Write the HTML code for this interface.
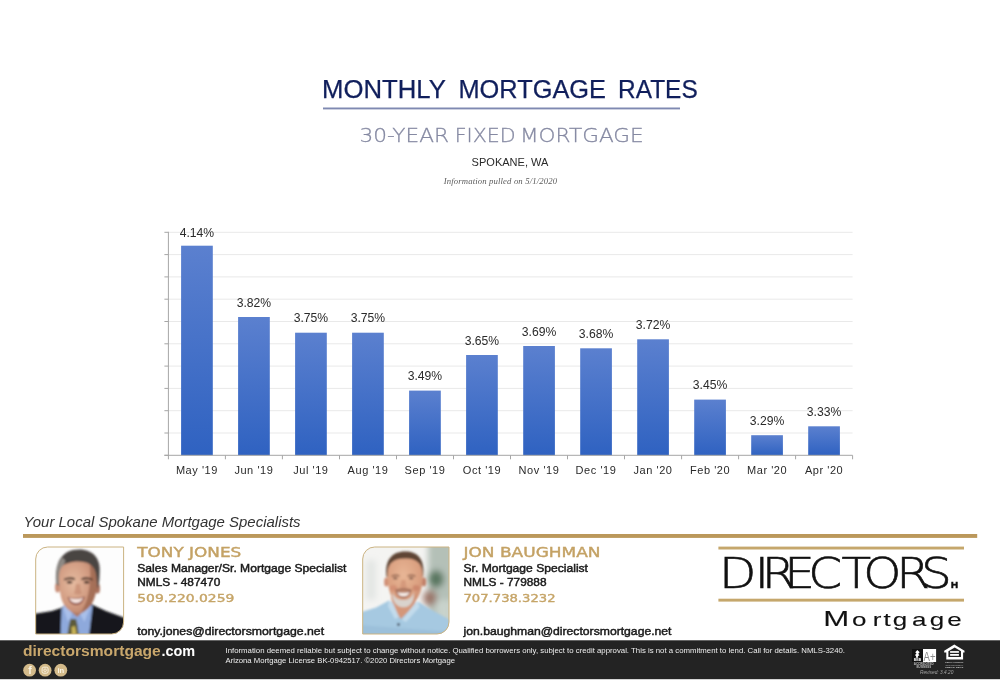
<!DOCTYPE html>
<html lang="en">
<head>
<meta charset="utf-8">
<title>Monthly Mortgage Rates</title>
<style>
html,body{margin:0;padding:0;background:#fff;}
body{width:1000px;height:688px;overflow:hidden;position:relative;font-family:"Liberation Sans",sans-serif;}
svg{position:absolute;left:0;top:0;display:block;}
text{font-family:"Liberation Sans",sans-serif;}
.title{font-size:25.8px;fill:#101f5c;stroke:#101f5c;stroke-width:0.25px;}
.sub{font-family:"DejaVu Sans Light","DejaVu Sans","Liberation Sans",sans-serif;font-weight:200;font-size:19.8px;fill:#8589a2;stroke:#8589a2;stroke-width:0.3px;}
.city{font-size:10.6px;fill:#2a2a2a;}
.info{font-family:"Liberation Serif",serif;font-style:italic;font-size:8.7px;fill:#5a5a5a;}
.vl{font-size:13px;fill:#2a2a2a;}
.xl{font-size:11px;fill:#2a2a2a;letter-spacing:0.55px;}
.spec{font-style:italic;font-size:14px;fill:#333;}
.nm{font-family:"DejaVu Sans","Liberation Sans",sans-serif;font-size:13.4px;fill:#c4a265;stroke:#c4a265;stroke-width:0.4px;}
.ln{font-size:11px;fill:#1a1a1a;stroke:#1a1a1a;stroke-width:0.45px;}
.ph{font-family:"DejaVu Sans","Liberation Sans",sans-serif;font-size:11.1px;fill:#c6a568;stroke:#c6a568;stroke-width:0.4px;}
.dis{font-size:7.2px;fill:#eee;}
.logo{font-family:"DejaVu Sans Light","DejaVu Sans","Liberation Sans",sans-serif;font-weight:200;font-size:42.2px;fill:#111;stroke:#111;stroke-width:0.6px;}
.lh{font-size:8.6px;font-weight:bold;fill:#111;stroke:#111;stroke-width:0.5px;}
.logom{font-size:18.8px;fill:#111;stroke:#111;stroke-width:0.12px;}
.site{font-weight:bold;font-size:14.3px;}
.ic{fill:#fbf4e4;}
.rev{font-style:italic;font-size:5px;fill:#a5a5a5;}
</style>
</head>
<body>
<svg width="1000" height="688" viewBox="0 0 1000 688">
<defs>
<linearGradient id="bg" x1="0" y1="0" x2="0" y2="1">
<stop offset="0" stop-color="#5b80cf"/>
<stop offset="1" stop-color="#2f62c1"/>
</linearGradient>
<clipPath id="c1"><path d="M47.7 547 H123.6 V622 A12 12 0 0 1 111.6 634 H35.7 V559 A12 12 0 0 1 47.7 547 Z"/></clipPath>
<clipPath id="c2"><path d="M374.7 547 H449 V622 A12 12 0 0 1 437 634 H362.7 V559 A12 12 0 0 1 374.7 547 Z"/></clipPath>
<filter id="bl" x="-10%" y="-10%" width="120%" height="120%"><feGaussianBlur stdDeviation="0.85"/></filter>
<filter id="bl2" x="-30%" y="-30%" width="160%" height="160%"><feGaussianBlur stdDeviation="3"/></filter>
<radialGradient id="sk1" cx="0.38" cy="0.42" r="0.7">
<stop offset="0" stop-color="#e6bba0"/>
<stop offset="0.6" stop-color="#d29c82"/>
<stop offset="1" stop-color="#b98068"/>
</radialGradient>
<radialGradient id="sk2" cx="0.45" cy="0.35" r="0.75">
<stop offset="0" stop-color="#e8b696"/>
<stop offset="0.6" stop-color="#dba080"/>
<stop offset="1" stop-color="#c4836a"/>
</radialGradient>
</defs>
<!-- header -->
<text id="t1" class="title" x="322" y="97.6" textLength="123.8" lengthAdjust="spacingAndGlyphs">MONTHLY</text>
<text id="t1b" class="title" x="458.4" y="97.6" textLength="147.6" lengthAdjust="spacingAndGlyphs">MORTGAGE</text>
<text id="t1c" class="title" x="618" y="97.6" textLength="79.7" lengthAdjust="spacingAndGlyphs">RATES</text>
<rect x="323" y="107.5" width="357" height="1.9" fill="#7f89b1"/>
<text id="t2" class="sub" x="359.5" y="142" textLength="89.5" lengthAdjust="spacingAndGlyphs">30-YEAR</text>
<text id="t2b" class="sub" x="454.7" y="142" textLength="61" lengthAdjust="spacingAndGlyphs">FIXED</text>
<text id="t2c" class="sub" x="520" y="142" textLength="123.7" lengthAdjust="spacingAndGlyphs">MORTGAGE</text>
<text id="t3" class="city" x="471.6" y="166.2" textLength="76.8" lengthAdjust="spacingAndGlyphs">SPOKANE, WA</text>
<text id="t4" class="info" x="443.7" y="183.7" textLength="113.3" lengthAdjust="spacing">Information pulled on 5/1/2020</text>
<!-- chart -->
<line x1="164.4" y1="232.3" x2="168.4" y2="232.3" stroke="#a6a6a6" stroke-width="1"/>
<line x1="168.4" y1="232.3" x2="852.6" y2="232.3" stroke="#e9e9e9" stroke-width="1"/>
<line x1="164.4" y1="254.6" x2="168.4" y2="254.6" stroke="#a6a6a6" stroke-width="1"/>
<line x1="168.4" y1="254.6" x2="852.6" y2="254.6" stroke="#e9e9e9" stroke-width="1"/>
<line x1="164.4" y1="276.9" x2="168.4" y2="276.9" stroke="#a6a6a6" stroke-width="1"/>
<line x1="168.4" y1="276.9" x2="852.6" y2="276.9" stroke="#e9e9e9" stroke-width="1"/>
<line x1="164.4" y1="299.2" x2="168.4" y2="299.2" stroke="#a6a6a6" stroke-width="1"/>
<line x1="168.4" y1="299.2" x2="852.6" y2="299.2" stroke="#e9e9e9" stroke-width="1"/>
<line x1="164.4" y1="321.5" x2="168.4" y2="321.5" stroke="#a6a6a6" stroke-width="1"/>
<line x1="168.4" y1="321.5" x2="852.6" y2="321.5" stroke="#e9e9e9" stroke-width="1"/>
<line x1="164.4" y1="343.8" x2="168.4" y2="343.8" stroke="#a6a6a6" stroke-width="1"/>
<line x1="168.4" y1="343.8" x2="852.6" y2="343.8" stroke="#e9e9e9" stroke-width="1"/>
<line x1="164.4" y1="366.1" x2="168.4" y2="366.1" stroke="#a6a6a6" stroke-width="1"/>
<line x1="168.4" y1="366.1" x2="852.6" y2="366.1" stroke="#e9e9e9" stroke-width="1"/>
<line x1="164.4" y1="388.4" x2="168.4" y2="388.4" stroke="#a6a6a6" stroke-width="1"/>
<line x1="168.4" y1="388.4" x2="852.6" y2="388.4" stroke="#e9e9e9" stroke-width="1"/>
<line x1="164.4" y1="410.7" x2="168.4" y2="410.7" stroke="#a6a6a6" stroke-width="1"/>
<line x1="168.4" y1="410.7" x2="852.6" y2="410.7" stroke="#e9e9e9" stroke-width="1"/>
<line x1="164.4" y1="433.0" x2="168.4" y2="433.0" stroke="#a6a6a6" stroke-width="1"/>
<line x1="168.4" y1="433.0" x2="852.6" y2="433.0" stroke="#e9e9e9" stroke-width="1"/>
<line x1="164.4" y1="455.3" x2="168.4" y2="455.3" stroke="#a6a6a6" stroke-width="1"/>
<rect x="181.1" y="245.7" width="31.7" height="209.6" fill="url(#bg)"/>
<text class="vl" x="179.7" y="237.0" textLength="34.5" lengthAdjust="spacingAndGlyphs">4.14%</text>
<text class="xl" x="196.9" y="474" text-anchor="middle">May '19</text>
<rect x="238.1" y="317.0" width="31.7" height="138.3" fill="url(#bg)"/>
<text class="vl" x="236.7" y="306.5" textLength="34.5" lengthAdjust="spacingAndGlyphs">3.82%</text>
<text class="xl" x="253.9" y="474" text-anchor="middle">Jun '19</text>
<rect x="295.1" y="332.7" width="31.7" height="122.6" fill="url(#bg)"/>
<text class="vl" x="293.7" y="322.2" textLength="34.5" lengthAdjust="spacingAndGlyphs">3.75%</text>
<text class="xl" x="310.9" y="474" text-anchor="middle">Jul '19</text>
<rect x="352.1" y="332.7" width="31.7" height="122.6" fill="url(#bg)"/>
<text class="vl" x="350.7" y="322.2" textLength="34.5" lengthAdjust="spacingAndGlyphs">3.75%</text>
<text class="xl" x="368.0" y="474" text-anchor="middle">Aug '19</text>
<rect x="409.1" y="390.6" width="31.7" height="64.7" fill="url(#bg)"/>
<text class="vl" x="407.7" y="380.1" textLength="34.5" lengthAdjust="spacingAndGlyphs">3.49%</text>
<text class="xl" x="425.0" y="474" text-anchor="middle">Sep '19</text>
<rect x="466.1" y="355.0" width="31.7" height="100.3" fill="url(#bg)"/>
<text class="vl" x="464.7" y="344.5" textLength="34.5" lengthAdjust="spacingAndGlyphs">3.65%</text>
<text class="xl" x="482.0" y="474" text-anchor="middle">Oct '19</text>
<rect x="523.2" y="346.0" width="31.7" height="109.3" fill="url(#bg)"/>
<text class="vl" x="521.8" y="335.5" textLength="34.5" lengthAdjust="spacingAndGlyphs">3.69%</text>
<text class="xl" x="539.0" y="474" text-anchor="middle">Nov '19</text>
<rect x="580.2" y="348.3" width="31.7" height="107.0" fill="url(#bg)"/>
<text class="vl" x="578.8" y="337.8" textLength="34.5" lengthAdjust="spacingAndGlyphs">3.68%</text>
<text class="xl" x="596.0" y="474" text-anchor="middle">Dec '19</text>
<rect x="637.2" y="339.3" width="31.7" height="116.0" fill="url(#bg)"/>
<text class="vl" x="635.8" y="328.8" textLength="34.5" lengthAdjust="spacingAndGlyphs">3.72%</text>
<text class="xl" x="653.0" y="474" text-anchor="middle">Jan '20</text>
<rect x="694.2" y="399.6" width="31.7" height="55.8" fill="url(#bg)"/>
<text class="vl" x="692.8" y="389.1" textLength="34.5" lengthAdjust="spacingAndGlyphs">3.45%</text>
<text class="xl" x="710.1" y="474" text-anchor="middle">Feb '20</text>
<rect x="751.2" y="435.2" width="31.7" height="20.1" fill="url(#bg)"/>
<text class="vl" x="749.8" y="424.7" textLength="34.5" lengthAdjust="spacingAndGlyphs">3.29%</text>
<text class="xl" x="767.1" y="474" text-anchor="middle">Mar '20</text>
<rect x="808.2" y="426.3" width="31.7" height="29.0" fill="url(#bg)"/>
<text class="vl" x="806.8" y="415.8" textLength="34.5" lengthAdjust="spacingAndGlyphs">3.33%</text>
<text class="xl" x="824.1" y="474" text-anchor="middle">Apr '20</text>
<line x1="168.4" y1="231.8" x2="168.4" y2="459.3" stroke="#a6a6a6" stroke-width="1"/>
<line x1="164.4" y1="455.3" x2="852.6" y2="455.3" stroke="#a6a6a6" stroke-width="1"/>
<line x1="225.4" y1="455.3" x2="225.4" y2="459.3" stroke="#a6a6a6" stroke-width="1"/>
<line x1="282.4" y1="455.3" x2="282.4" y2="459.3" stroke="#a6a6a6" stroke-width="1"/>
<line x1="339.5" y1="455.3" x2="339.5" y2="459.3" stroke="#a6a6a6" stroke-width="1"/>
<line x1="396.5" y1="455.3" x2="396.5" y2="459.3" stroke="#a6a6a6" stroke-width="1"/>
<line x1="453.5" y1="455.3" x2="453.5" y2="459.3" stroke="#a6a6a6" stroke-width="1"/>
<line x1="510.5" y1="455.3" x2="510.5" y2="459.3" stroke="#a6a6a6" stroke-width="1"/>
<line x1="567.5" y1="455.3" x2="567.5" y2="459.3" stroke="#a6a6a6" stroke-width="1"/>
<line x1="624.5" y1="455.3" x2="624.5" y2="459.3" stroke="#a6a6a6" stroke-width="1"/>
<line x1="681.6" y1="455.3" x2="681.6" y2="459.3" stroke="#a6a6a6" stroke-width="1"/>
<line x1="738.6" y1="455.3" x2="738.6" y2="459.3" stroke="#a6a6a6" stroke-width="1"/>
<line x1="795.6" y1="455.3" x2="795.6" y2="459.3" stroke="#a6a6a6" stroke-width="1"/>
<line x1="852.6" y1="455.3" x2="852.6" y2="459.3" stroke="#a6a6a6" stroke-width="1"/>
<!-- specialists -->
<text id="s1" class="spec" x="23.6" y="527.4" textLength="277" lengthAdjust="spacingAndGlyphs">Your Local Spokane Mortgage Specialists</text>
<rect x="23" y="534" width="954.2" height="3.9" fill="#bb985b"/>

<!-- person 1 photo -->
<g clip-path="url(#c1)">
<rect x="35" y="546" width="90" height="89" fill="#fdfdfd"/>
<g filter="url(#bl)">
<!-- suit -->
<path d="M30 614.5 L52 611 L61 608 L66 604 L90 603 L95 606 L106 611 L128 619 L128 640 L30 640 Z" fill="#18181b"/>
<!-- shirt -->
<path d="M61.5 609 L67 602 L89 601 L92.5 606.5 L88.5 640 L60.5 640 Z" fill="#8ea9dc"/>
<path d="M63 607 L67.5 603 L72 614 L68 622 Z" fill="#a9c0ea"/>
<path d="M91 605 L88 602 L80 614 L84.5 622 Z" fill="#a9c0ea"/>
<!-- tie -->
<path d="M70.5 619 L76 619 L77.5 625 L79.5 640 L66.5 640 L69 625 Z" fill="#5b5a3a"/>
<path d="M71.5 627 L75 626 L76.5 634 L72 636 Z" fill="#c9b456"/>
<!-- neck -->
<path d="M65 596 L90 596 L89.5 606 L77 617 L66 607 Z" fill="#b07a62"/>
<!-- ears -->
<ellipse cx="57.6" cy="587.5" rx="2.6" ry="5" fill="#c98f78"/>
<ellipse cx="97.6" cy="588.5" rx="2.4" ry="5" fill="#a8705c"/>
<!-- hair back -->
<path d="M56.3 584 C54.3 562 62 549.6 79 549.5 C93.5 549.5 101.3 559 99.6 574 C99.6 580 98.7 585 97.7 589 L94 572 L62 570 L59.5 586 Z" fill="#4a4542"/>
<path d="M56.5 584 C55.5 572 57.5 563 62.5 557.5 L65.5 561 C62.5 566 61.5 574 60.5 585 Z" fill="#8f8a85"/>
<!-- face -->
<path d="M59 580 C58.5 568 63 563.5 69 563 C74 561 85 560.8 90 564.5 C94.5 567.5 96.6 573 96.6 582 C96.8 592 94.5 600 90.5 605.5 C86.5 610.5 82 613 77.5 613 C72.5 613 67.5 610 64 604.5 C60.5 599 59.3 590 59 580 Z" fill="url(#sk1)"/>
<!-- right shade -->
<path d="M90 564.5 C94.5 567.5 96.6 573 96.6 582 C96.8 592 94.5 600 90.5 605.5 C87.5 609.5 84 612 81 612.8 C87 603 91.5 588 90 564.5 Z" fill="#9c6650" opacity="0.8"/>
<!-- brows -->
<path d="M64 578.8 Q69.5 575.8 75 578.2 L75 580.2 Q69.5 578.3 64 580.6 Z" fill="#3e2a22"/>
<path d="M81.5 578.2 Q87 575.8 92.5 578.8 L92.5 580.6 Q87 578.3 81.5 580.2 Z" fill="#3e2a22"/>
<!-- eyes -->
<ellipse cx="69.6" cy="582.2" rx="2.9" ry="1.3" fill="#33241f"/>
<ellipse cx="86.7" cy="582.2" rx="2.9" ry="1.3" fill="#33241f"/>
<!-- nose -->
<path d="M76 584 Q75 591 74 593.5 Q78 595.5 82 593.5 Q80.5 591 80 584 Z" fill="#c48a70" opacity="0.7"/>
<!-- mouth -->
<path d="M67.5 597 Q76 599.8 85 596.5 Q82.5 605 76 605 Q70 605 67.5 597 Z" fill="#8a4a40"/>
<path d="M69 598 Q76 600.3 83.3 597.7 Q81 603 76 603 Q71.3 603 69 598 Z" fill="#f8e6e0"/>
</g>
</g>
<path d="M47.7 547 H123.6 V622 A12 12 0 0 1 111.6 634 H35.7 V559 A12 12 0 0 1 47.7 547 Z" fill="none" stroke="#cbb382" stroke-width="1"/>

<text id="n1" class="nm" x="137.3" y="556.8" textLength="104" lengthAdjust="spacingAndGlyphs">TONY JONES</text>
<text id="n2" class="ln" x="137.3" y="571.8" textLength="209" lengthAdjust="spacingAndGlyphs">Sales Manager/Sr. Mortgage Specialist</text>
<text id="n3" class="ln" x="137.3" y="586.2" textLength="83" lengthAdjust="spacingAndGlyphs">NMLS - 487470</text>
<text id="n4" class="ph" x="137.3" y="601.6" textLength="97" lengthAdjust="spacingAndGlyphs">509.220.0259</text>
<text id="n5" class="ln" x="137.3" y="635.1" textLength="186.8" lengthAdjust="spacingAndGlyphs">tony.jones@directorsmortgage.net</text>

<!-- person 2 photo -->
<g clip-path="url(#c2)">
<rect x="362" y="546" width="90" height="89" fill="#f4f4f2"/>
<g filter="url(#bl2)">
<rect x="428" y="540" width="26" height="100" fill="#b4c0b7"/>
<rect x="366" y="560" width="10" height="40" fill="#e3e6e4"/>
<ellipse cx="436" cy="579" rx="8" ry="9" fill="#4a6a52" opacity="0.85"/>
<ellipse cx="430" cy="598" rx="7" ry="8" fill="#94675a" opacity="0.85"/>
<rect x="436" y="600" width="16" height="40" fill="#c9d3cc"/>
</g>
<g filter="url(#bl)">
<!-- shirt -->
<path d="M358 613 L376 607.5 L389 600.5 L394 604 L414 604 L418 601.5 L430 609 L452 621 L452 640 L358 640 Z" fill="#a6c9e1"/>
<path d="M358 625 L452 632 L452 640 L358 640 Z" fill="#9cc0da"/>
<!-- neck -->
<path d="M391 597 L417 597 L414 606 L401 619 L397 614 L393 606 Z" fill="#d4977a"/>
<path d="M389 600.5 L393 603 L399 617 L395 619 L388 606 Z" fill="#c3dcec"/>
<path d="M418 601.5 L414.5 604 L402 620 L406 622 L419.5 607 Z" fill="#c3dcec"/>
<!-- ears -->
<ellipse cx="386.3" cy="582" rx="2.2" ry="4.5" fill="#d08e74"/>
<ellipse cx="424" cy="582" rx="2.2" ry="4.5" fill="#c07e66"/>
<!-- hair -->
<path d="M386.5 577 C384.5 560 392 551.5 405 551.5 C418 551.5 425 559 423.3 577 L420.5 575 L419 563 L391 563 L389 577 Z" fill="#5e4535"/>
<!-- face -->
<path d="M387.5 578 C386.5 564 392.5 558.5 405 558.5 C417.5 558.5 423.5 564 422.8 579 C422.5 592 416 606.5 404.5 606.5 C393.5 606.5 388 592 387.5 578 Z" fill="url(#sk2)"/>
<!-- cheeks -->
<ellipse cx="393.5" cy="588" rx="3.5" ry="3" fill="#cf866c" opacity="0.6"/>
<ellipse cx="416" cy="588" rx="3.5" ry="3" fill="#c47a62" opacity="0.6"/>
<!-- beard -->
<path d="M392.5 592 C393.5 597 398 600 403.5 600 C409 600 412.5 597 413.5 592 C415 601 410.5 607.3 403.5 607.3 C396.5 607.3 391.5 601 392.5 592 Z" fill="#d9d3cd"/>
<path d="M395 589.5 Q403.5 586.5 412 589.5 L411 592 Q403.5 590 396 592 Z" fill="#a8745e"/>
<!-- brows/eyes -->
<path d="M391.5 575.5 Q395.5 573.8 399.5 575.3 L399.5 576.6 Q395.5 575.5 391.5 576.8 Z" fill="#8a5d48"/>
<path d="M407.5 575.3 Q411.5 573.8 415.5 575.5 L415.5 576.8 Q411.5 575.5 407.5 576.6 Z" fill="#8a5d48"/>
<ellipse cx="395.3" cy="578.3" rx="2.3" ry="0.9" fill="#5a3c30"/>
<ellipse cx="411.2" cy="578.3" rx="2.3" ry="0.9" fill="#5a3c30"/>
<!-- nose -->
<path d="M401.5 580 Q400.5 586 400 587.5 Q403.5 589 407 587.5 Q406 586 405.5 580 Z" fill="#cc8c70" opacity="0.6"/>
<!-- smile -->
<path d="M395.5 591.5 Q403.5 593.3 411 591 Q409 598 403.5 598 Q398 598 395.5 591.5 Z" fill="#8f5244"/>
<path d="M396.8 592.3 Q403.5 593.8 409.8 591.9 Q408 596.5 403.5 596.5 Q399 596.5 396.8 592.3 Z" fill="#f9f0ea"/>
<circle cx="398.5" cy="624.5" r="1.3" fill="#223"/>
</g>
</g>
<path d="M374.7 547 H449 V622 A12 12 0 0 1 437 634 H362.7 V559 A12 12 0 0 1 374.7 547 Z" fill="none" stroke="#cbb382" stroke-width="1"/>

<text id="m1" class="nm" x="463.5" y="556.8" textLength="137" lengthAdjust="spacingAndGlyphs">JON BAUGHMAN</text>
<text id="m2" class="ln" x="463.5" y="571.8" textLength="124.5" lengthAdjust="spacingAndGlyphs">Sr. Mortgage Specialist</text>
<text id="m3" class="ln" x="463.5" y="586.2" textLength="83" lengthAdjust="spacingAndGlyphs">NMLS - 779888</text>
<text id="m4" class="ph" x="463.5" y="601.6" textLength="92" lengthAdjust="spacingAndGlyphs">707.738.3232</text>
<text id="m5" class="ln" x="463.5" y="635.1" textLength="208" lengthAdjust="spacingAndGlyphs">jon.baughman@directorsmortgage.net</text>

<!-- logo -->
<rect x="718.4" y="546.6" width="245.6" height="2.9" fill="#c5a76c"/>
<rect x="718.4" y="598.7" width="245.6" height="2.9" fill="#c5a76c"/>
<text id="lg" class="logo" transform="scale(1.15,1)" x="625.2 656.3 662.4 681.9 702.8 731.7 750.7 779.4 800.9" y="587.7">DIRECTORS</text>
<text id="lh" class="lh" x="951" y="588.4" textLength="7" lengthAdjust="spacingAndGlyphs">H</text>
<text id="lm" class="logom" transform="scale(1.38,1)" x="596.6 617.4 632.5 640.2 647.0 660.9 673.7 686.4" y="625.6"><tspan font-size="22.6">M</tspan>ortgage</text>

<!-- footer bar -->
<rect x="0" y="640.3" width="1000" height="38.9" fill="#232323"/>
<text id="f1" class="site" y="656.4"><tspan id="f1a" x="23" fill="#c9a76c" textLength="137.8" lengthAdjust="spacingAndGlyphs">directorsmortgage</tspan><tspan id="f1b" x="161.4" fill="#ffffff" textLength="33.8" lengthAdjust="spacingAndGlyphs">.com</tspan></text>
<circle cx="29.6" cy="670.2" r="6.4" fill="#d3ba8a"/>
<circle cx="45.1" cy="670.2" r="6.4" fill="#d3ba8a"/>
<circle cx="60.8" cy="670.2" r="6.4" fill="#d3ba8a"/>
<text class="ic" x="29.9" y="674.4" text-anchor="middle" font-size="10.5" font-weight="bold">f</text>
<rect x="42.1" y="667.2" width="6" height="6" rx="1.7" fill="none" stroke="#fbf4e4" stroke-width="0.9"/>
<circle cx="45.1" cy="670.2" r="1.3" fill="none" stroke="#fbf4e4" stroke-width="0.8"/>
<text class="ic" x="60.8" y="673.2" text-anchor="middle" font-size="7.6" font-weight="bold">in</text>
<text id="d1" class="dis" x="225.5" y="653.4" textLength="619.5" lengthAdjust="spacingAndGlyphs">Information deemed reliable but subject to change without notice. Qualified borrowers only, subject to credit approval. This is not a commitment to lend. Call for details. NMLS-3240.</text>
<text id="d2" class="dis" x="225.5" y="662.6" textLength="229.5" lengthAdjust="spacingAndGlyphs">Arizona Mortgage License BK-0942517. ©2020 Directors Mortgage</text>
<!-- badges -->
<rect x="912" y="649" width="11" height="13" fill="#111"/>
<rect x="923" y="649" width="13.1" height="13" fill="#fff"/>
<text x="929.6" y="660.6" text-anchor="middle" font-size="12.5" fill="#8a8a8a" textLength="12" lengthAdjust="spacingAndGlyphs">A+</text>
<path d="M917.3 650 l2.4 2.2 l-1.5 1.6 l1.2 1.4 l-1.6 1 l0.5 1.6 h-2.6 l0.5 -1.6 l-1.3 -1.2 l1.6 -1.2 l-1.2 -1.6 Z" fill="#fff"/>
<text x="917.5" y="661.4" text-anchor="middle" font-size="3.4" font-weight="bold" fill="#fff">BBB</text>
<text x="913.7" y="665.4" font-size="2.7" font-weight="bold" fill="#bbb" textLength="20" lengthAdjust="spacingAndGlyphs">ACCREDITED</text>
<text x="916.5" y="667.9" font-size="2.7" font-weight="bold" fill="#bbb" textLength="14.7" lengthAdjust="spacingAndGlyphs">BUSINESS</text>
<path d="M944.2 650.7 L954.3 644.6 L964.5 650.7 V652.6 H963.1 V659.5 H946.3 V652.6 H944.2 Z M948.4 651.2 V657 H961 V651.2 L954.7 647.4 Z" fill="#fff" fill-rule="evenodd"/>
<rect x="950.1" y="651.1" width="8.8" height="1.7" fill="#fff"/>
<rect x="950.1" y="654" width="8.8" height="1.8" fill="#fff"/>
<text x="945.2" y="663.2" font-size="2.5" font-weight="bold" fill="#ccc" textLength="18.2" lengthAdjust="spacingAndGlyphs">EQUAL HOUSING</text>
<text x="945.2" y="665.5" font-size="2.5" font-weight="bold" fill="#999" textLength="18.2" lengthAdjust="spacingAndGlyphs">OPPORTUNITY</text>
<text x="945.2" y="667.9" font-size="2.5" font-weight="bold" fill="#ccc" textLength="18.2" lengthAdjust="spacingAndGlyphs">NMLS-3240</text>
<text id="rv" class="rev" x="920" y="673.6" textLength="33.3" lengthAdjust="spacingAndGlyphs">Revised: 3.4.20</text>
</svg>
</body>
</html>
